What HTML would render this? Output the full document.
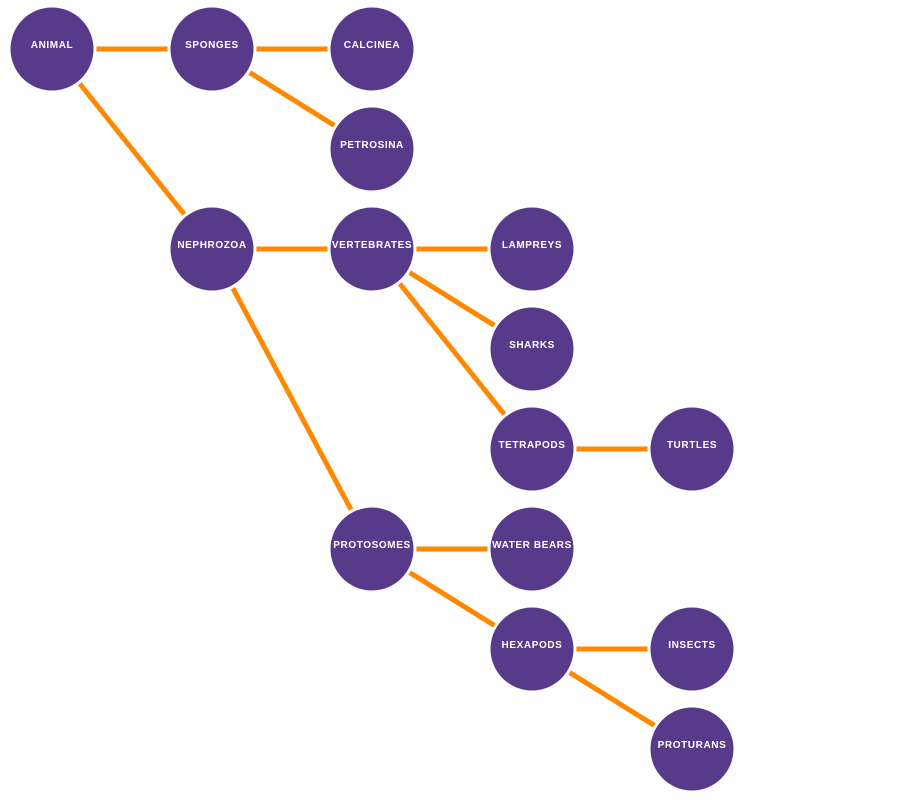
<!DOCTYPE html>
<html><head><meta charset="utf-8"><style>
body{margin:0;background:#fff;width:908px;height:800px;overflow:hidden}
svg{display:block}
text{font-family:"Liberation Sans",sans-serif;font-weight:bold;font-size:10px;fill:#fff;letter-spacing:0.6px}
</style></head><body>
<svg id="c" width="908" height="800"></svg>
<script>
const names=["ANIMAL","SPONGES","CALCINEA","PETROSINA","NEPHROZOA","VERTEBRATES","LAMPREYS","SHARKS","TETRAPODS","TURTLES","PROTOSOMES","WATER BEARS","HEXAPODS","INSECTS","PROTURANS"];
const depths=[0,1,2,2,1,2,3,3,3,4,2,3,3,4,4];
const rows=[0,0,0,1,2,2,2,3,4,4,5,5,6,6,7];
const parents=[-1,0,1,1,0,4,5,5,5,8,4,10,10,12,12];
const NS="http://www.w3.org/2000/svg",svg=document.getElementById('c');
const X=d=>52+160*d, Y=r=>49+100*r;
const gl=document.createElementNS(NS,'g');


svg.appendChild(gl);
const gn=document.createElementNS(NS,'g');


svg.appendChild(gn);
names.forEach((n,i)=>{
 const p=parents[i];
 if(p>=0){
  const l=document.createElementNS(NS,'line');
  l.setAttribute('x1',X(depths[p]));l.setAttribute('y1',Y(rows[p]));
  l.setAttribute('x2',X(depths[i]));l.setAttribute('y2',Y(rows[i]));
  l.setAttribute('stroke','#ff8800');l.setAttribute('stroke-width','5');
  
  
  gl.appendChild(l);
 }
 const g=document.createElementNS(NS,'g');
 
 
 const c=document.createElementNS(NS,'circle');
 c.setAttribute('cx',X(depths[i]));c.setAttribute('cy',Y(rows[i]));c.setAttribute('r','43');
 c.setAttribute('fill','#583a8a');c.setAttribute('stroke','#fff');c.setAttribute('stroke-width','3');
 g.appendChild(c);
 const t=document.createElementNS(NS,'text');
 t.setAttribute('x',X(depths[i]));t.setAttribute('y',Y(rows[i])-1);
 t.setAttribute('text-anchor','middle');
 t.textContent=n;
 g.appendChild(t);
 gn.appendChild(g);
});
</script>
</body></html>
